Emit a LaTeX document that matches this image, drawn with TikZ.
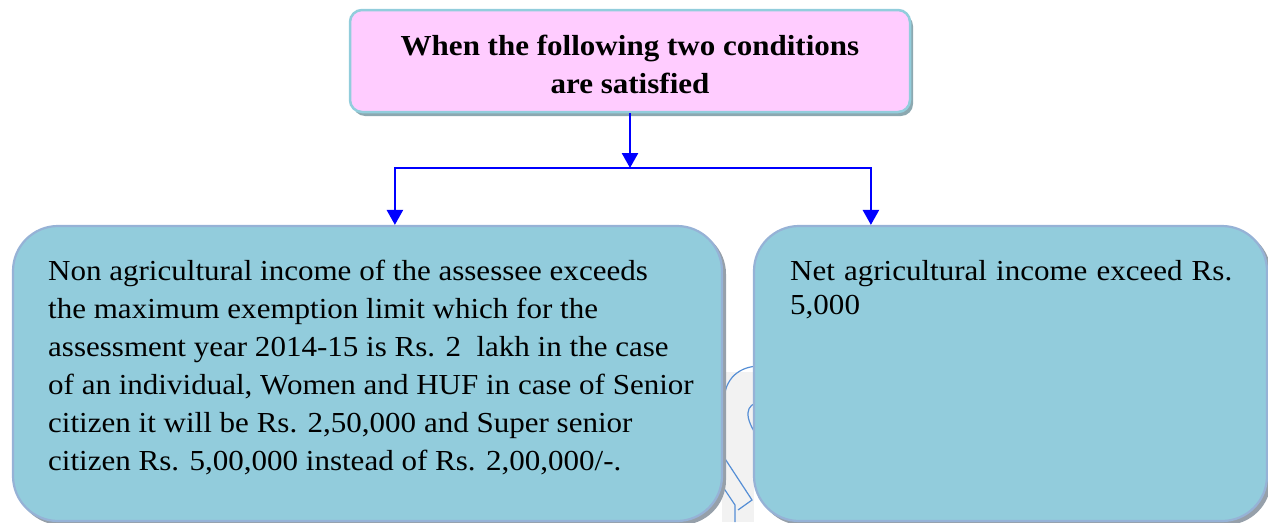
\documentclass[tikz,border=0pt]{standalone}
\usepackage{fontspec}
\setmainfont{Liberation Serif}[FakeStretch=1.07]
\usetikzlibrary{arrows.meta,calc}
\definecolor{pinkfill}{RGB}{255,204,255}
\definecolor{cyanborder}{RGB}{146,205,220}
\definecolor{topshadow}{RGB}{140,168,176}
\definecolor{boxfill}{RGB}{146,204,220}
\definecolor{boxborder}{RGB}{150,178,214}
\definecolor{boxshadow}{RGB}{150,160,170}
\definecolor{wmfill}{RGB}{242,242,242}
\definecolor{wmline}{RGB}{85,142,213}
\tikzset{
  titlebox/.style={draw=cyanborder, line width=2.5pt, fill=pinkfill, rounded corners=12pt,
    minimum width=560pt, minimum height=102pt, inner sep=0pt},
  infobox/.style={draw=boxborder, line width=2.2pt, fill=boxfill, rounded corners=45pt, inner sep=0pt},
  conn/.style={draw={rgb,255:red,0;green,0;blue,255}, line width=2.6pt,
    -{Triangle[width=16pt,length=15pt]}},
  bodytext/.style={anchor=base west, inner sep=0pt, align=left,
    font=\fontsize{29pt}{38pt}\selectfont},
  titletext/.style={inner sep=0pt, align=center, font=\fontsize{29pt}{38pt}\selectfont\bfseries}
}
\begin{document}
\begin{tikzpicture}[x=1pt,y=-1pt]
\useasboundingbox (0,0) rectangle (1268,522);
% watermark behind
\fill[wmfill] (722,372) -- (754,372) -- (754,522) -- (722,522) -- cycle;
\draw[wmline, line width=1.2pt] (724,402) .. controls (724,378) and (740,366) .. (760,366);
\draw[wmline, line width=1.2pt] (760,402) .. controls (746,404) and (742,416) .. (760,440);
\draw[wmline, line width=1.2pt] (716,445) -- (752,500) -- (738,510);
\draw[wmline, line width=1.2pt] (715,475) -- (735,505) -- (735,522);
% shadows
\fill[topshadow, rounded corners=12pt] (353,14) rectangle (913,116);
\fill[boxshadow, rounded corners=45pt] (16,229) rectangle (726,525);
\fill[boxshadow, rounded corners=45pt] (757,229) rectangle (1271,525);
% boxes
\node[titlebox] (top) at (630,61) {};
\node[infobox, minimum width=709pt, minimum height=295pt] (left) at (367.5,373.5) {};
\node[infobox, minimum width=513pt, minimum height=295pt] (right) at (1010.5,373.5) {};
% texts
\node[titletext] (toptext) at (630,64) {When the following two conditions\\are satisfied};
\node[bodytext] (lefttext) at (48,280) {Non agricultural income of the assessee exceeds};
\node[bodytext] (l2) at (48,318) {the maximum exemption limit which for the};
\node[bodytext] (l3) at (48,356) {assessment year 2014-15 is Rs. 2\ \ lakh in the case};
\node[bodytext] (l4) at (48,394) {of an individual, Women and HUF in case of Senior};
\node[bodytext] (l5) at (48,432) {citizen it will be Rs. 2,50,000 and Super senior};
\node[bodytext] (l6) at (48,470) {citizen Rs. 5,00,000 instead of Rs. 2,00,000/-.};
\node[bodytext] (righttext) at (790,280) {\makebox[442pt][s]{Net agricultural income exceed Rs.}};
\node[bodytext] (r2) at (790,314) {5,000};
% connectors
\coordinate (split) at (630,168);
\coordinate (lefttip) at ($(left.north west)+(383,0)$);
\coordinate (righttip) at ($(right.north west)+(118,0)$);
\draw[conn] (top.south) -- (split);
\draw[conn] (split) -| (lefttip);
\draw[conn] (split) -| (righttip);
\end{tikzpicture}
\end{document}
